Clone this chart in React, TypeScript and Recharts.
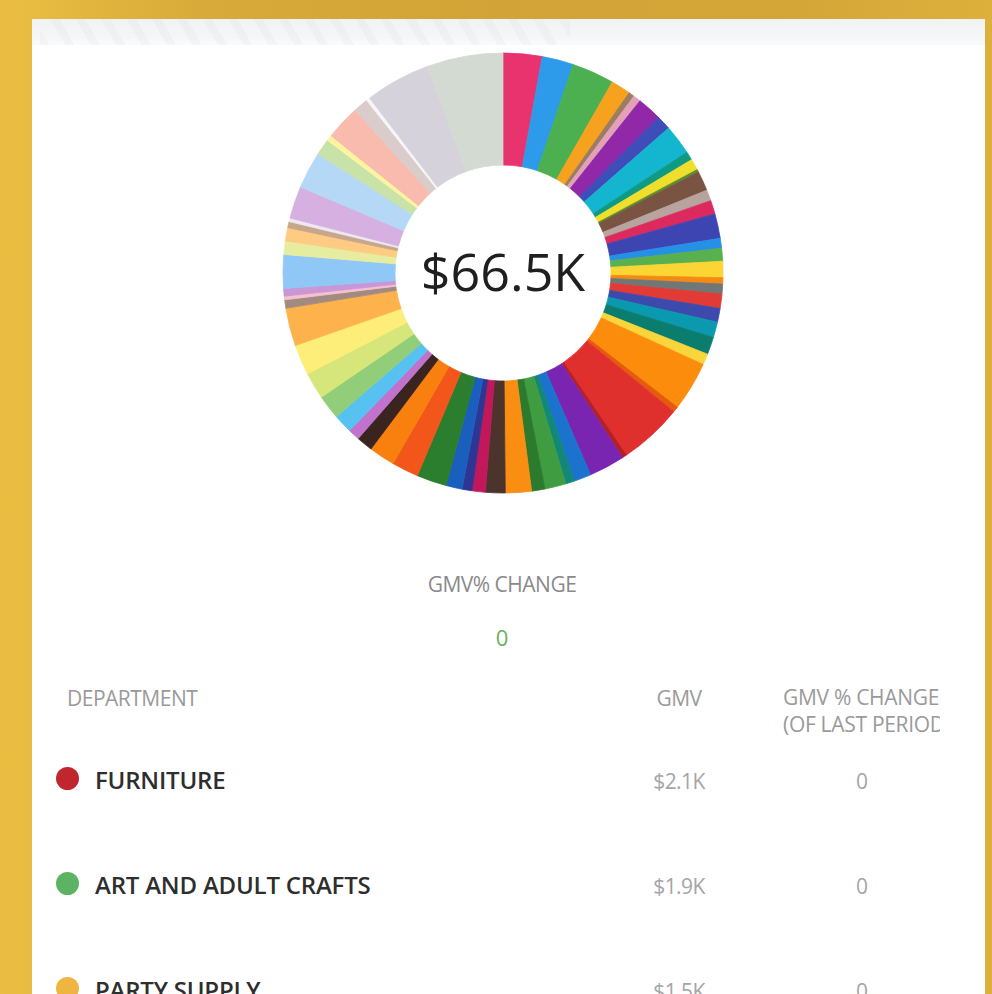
import React from "react";
import { PieChart, Pie, Cell, Label } from "recharts";

// GMV per department slice (USD), clockwise from 12 o'clock
const sliceGmv = [
  1900, 1530, 2070, 960, 280, 370, 1200, 700, 1460, 420,
  550, 130, 960, 540, 670, 1200, 480, 630, 790, 310,
  480, 700, 670, 760, 850, 540, 2400, 280, 3100, 220,
  1750, 830, 440, 1030, 650, 1270, 960, 650, 480, 790,
  1460, 1310, 1270, 790, 570, 920, 1180, 1310, 1480, 1850,
  410, 180, 370, 1640, 650, 650, 300, 180, 1570, 1810,
  790, 280, 1680, 740, 180, 3200, 3690,
];

const sliceColors = [
  "#E8336E", "#2E9BEA", "#4CAF50", "#F7A21E", "#9C7C62", "#E3A1B8", "#9128A8", "#3F4DB8", "#14B5CF", "#0E9A83",
  "#F0DE2C", "#5E8F2E", "#7A5443", "#B9A39E", "#DC2A5E", "#3D45B3", "#2590E6", "#58B04E", "#FBD534", "#F58A12",
  "#6F7777", "#E23A34", "#3C4AAE", "#0A99AE", "#0B7D6E", "#F9D43A", "#FB8C0C", "#E65A0E", "#E0302E", "#B52026",
  "#7A24B2", "#1C73CE", "#11887A", "#3F9C40", "#2C7A2D", "#FA8E12", "#4C342C", "#C0185A", "#2E3593", "#1A5FBE",
  "#2A7E2E", "#F2561B", "#F9800F", "#3A2420", "#C172CC", "#57C2F2", "#92CE7A", "#D6E67A", "#FCEE78", "#FDB24C",
  "#A38A80", "#F6C0D2", "#C996D6", "#8FC8F6", "#E7EDA0", "#FFCB82", "#C6A78C", "#EEE8F2", "#D6B0E0", "#B4D8F6",
  "#C8E2A8", "#FFF3A0", "#F9BBAE", "#D9CCCB", "#F6F6F6", "#D6D2DC", "#D3DAD2",
];

const totalLabel = "$66.5K";
const changeTitle = "GMV% CHANGE";
const changeValue = "0";

const tableHeaders = ["DEPARTMENT", "GMV", "GMV % CHANGE", "(OF LAST PERIOD)"];
const departmentNames = ["FURNITURE", "ART AND ADULT CRAFTS", "PARTY SUPPLY"];
const departmentGmvLabels = ["$2.1K", "$1.9K", "$1.5K"];
const departmentChanges = ["0", "0", "0"];
const departmentDotColors = ["#C0262E", "#5CB462", "#F0B440"];

const pieData = sliceGmv.map((gmv, i) => ({ name: `Department ${i + 1}`, gmv }));

const FONT = "'Open Sans', 'Noto Sans', sans-serif";
const ROW_Y = [781, 886, 991];

export default function App() {
  return (
    <div
      style={{
        position: "absolute",
        left: 0,
        top: 0,
        width: 992,
        height: 994,
        overflow: "hidden",
        background:
          "linear-gradient(90deg, #EBBE42 0%, #D8AA39 20%, #D2A437 50%, #D4A638 80%, #DDB03C 100%)",
        fontFamily: FONT,
      }}
    >
      {/* card */}
      <div
        style={{
          position: "absolute",
          left: 32,
          top: 19,
          width: 953,
          height: 990,
          background: "#FFFFFF",
        }}
      />
      {/* faint top strip */}
      <div
        style={{
          position: "absolute",
          left: 32,
          top: 19,
          width: 953,
          height: 26,
          background: "linear-gradient(180deg, #F1F2F4 0%, #F5F6F7 70%, #FBFBFB 100%)",
        }}
      />
      <div
        style={{
          position: "absolute",
          left: 40,
          top: 19,
          width: 530,
          height: 26,
          opacity: 0.25,
          background:
            "repeating-linear-gradient(60deg, rgba(215,216,222,0.7) 0px, rgba(215,216,222,0.7) 8px, rgba(255,255,255,0) 8px, rgba(255,255,255,0) 22px)",
        }}
      />

      {/* donut */}
      <div style={{ position: "absolute", left: 273, top: 43, width: 460, height: 460 }}>
        <PieChart width={460} height={460} margin={{ top: 0, right: 0, bottom: 0, left: 0 }}>
          <Pie
            data={pieData}
            dataKey="gmv"
            nameKey="name"
            cx={230}
            cy={230}
            innerRadius={108}
            outerRadius={220}
            startAngle={90}
            endAngle={-270}
            isAnimationActive={false}
          >
            {pieData.map((d, i) => {
              const c = sliceColors[i % sliceColors.length];
              return <Cell key={d.name} fill={c} stroke={c} strokeWidth={0.8} />;
            })}
            <Label
              value={totalLabel}
              position="center"
              fill="#1F1F1F"
              fontSize={52}
              fontFamily={FONT}
              fontWeight={400}
            />
          </Pie>
        </PieChart>
      </div>

      {/* GMV% change summary */}
      <div
        style={{
          position: "absolute",
          left: 302,
          width: 400,
          top: 574,
          fontSize: 21,
          lineHeight: "21px",
          color: "#8A8A8A",
          textAlign: "center",
          letterSpacing: -0.5,
        }}
      >
        {changeTitle}
      </div>
      <div
        style={{
          position: "absolute",
          left: 402,
          width: 200,
          top: 626,
          fontSize: 22,
          lineHeight: "22px",
          color: "#6DAF5E",
          textAlign: "center",
        }}
      >
        {changeValue}
      </div>

      {/* table headers */}
      <div
        style={{
          position: "absolute",
          left: 67,
          top: 688,
          fontSize: 21,
          lineHeight: "21px",
          color: "#9A9A9A",
          letterSpacing: -0.5,
        }}
      >
        {tableHeaders[0]}
      </div>
      <div
        style={{
          position: "absolute",
          left: 600,
          width: 158,
          top: 688,
          fontSize: 21,
          lineHeight: "21px",
          color: "#9A9A9A",
          textAlign: "center",
          letterSpacing: -0.5,
        }}
      >
        {tableHeaders[1]}
      </div>
      <div
        style={{
          position: "absolute",
          left: 783,
          width: 157,
          top: 684,
          fontSize: 21,
          lineHeight: "27px",
          color: "#9A9A9A",
          overflow: "hidden",
          whiteSpace: "nowrap",
          letterSpacing: -0.3,
        }}
      >
        <div>{tableHeaders[2]}</div>
        <div>{tableHeaders[3]}</div>
      </div>

      {/* rows */}
      {departmentNames.map((name, i) => (
        <React.Fragment key={name}>
          <div
            style={{
              position: "absolute",
              left: 56,
              top: ROW_Y[i] - 14,
              width: 23,
              height: 23,
              borderRadius: "50%",
              background: departmentDotColors[i],
            }}
          />
          <div
            style={{
              position: "absolute",
              left: 95,
              top: ROW_Y[i] - 13,
              fontSize: 24,
              lineHeight: "24px",
              fontWeight: 600,
              color: "#2E2E2E",
              letterSpacing: -0.2,
              whiteSpace: "nowrap",
            }}
          >
            {name}
          </div>
          <div
            style={{
              position: "absolute",
              left: 600,
              width: 158,
              top: ROW_Y[i] - 10,
              fontSize: 21,
              lineHeight: "21px",
              color: "#A5A5A5",
              textAlign: "center",
              letterSpacing: -0.6,
            }}
          >
            {departmentGmvLabels[i]}
          </div>
          <div
            style={{
              position: "absolute",
              left: 812,
              width: 100,
              top: ROW_Y[i] - 10,
              fontSize: 21,
              lineHeight: "21px",
              color: "#A5A5A5",
              textAlign: "center",
            }}
          >
            {departmentChanges[i]}
          </div>
        </React.Fragment>
      ))}
    </div>
  );
}
